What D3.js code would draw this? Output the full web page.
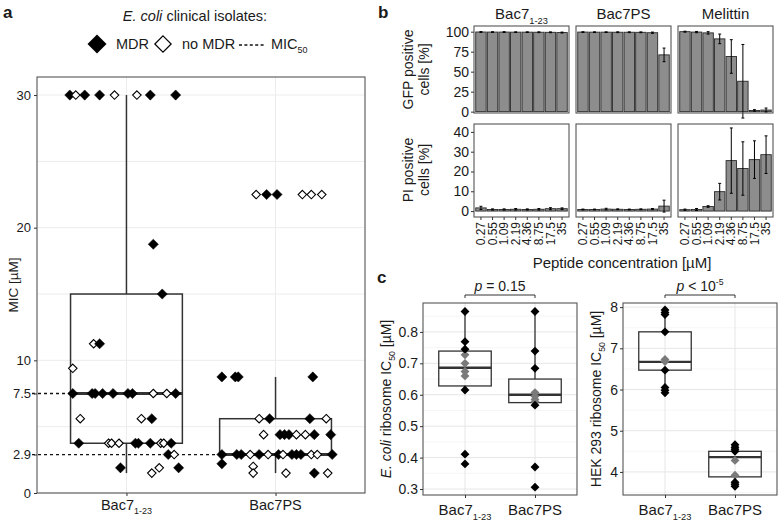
<!DOCTYPE html>
<html>
<head>
<meta charset="utf-8">
<script src="https://cdn.jsdelivr.net/npm/d3@7"></script>
<style>
  body { margin: 0; background: #fff; }
  text { font-family: 'Liberation Sans', Arial, sans-serif; fill: #1a1a1a; }
</style>
</head>
<body>
<svg id="fig" width="780" height="522"></svg>
<script>
// ---------- panel a: MIC against E. coli clinical isolates ----------
const micGroups = ['Bac7', 'Bac7PS']
const micTicks = [0, 2.9, 7.5, 10, 20, 30]
const mic50 = [7.5, 2.9]

const bac7Mic = [30, 30, 30, 30, 30, 30, 30, 30, 18.75, 15, 11.25, 11.25, 9.4,
  7.5, 7.5, 7.5, 7.5, 7.5, 7.5, 7.5, 7.5, 7.5, 7.5, 5.6, 5.6, 5.6,
  3.75, 3.75, 3.75, 3.75, 3.75, 3.75, 3.75, 3.75, 3.75, 3.75, 2.9, 2.9, 1.9, 1.9, 1.9, 1.5]
const bac7Jitter = [-0.38, -0.34, -0.28, -0.18, -0.08, 0.07, 0.16, 0.33, 0.18, 0.24, -0.22, -0.18, -0.36,
  -0.36, -0.23, -0.21, -0.16, -0.09, 0.01, 0.04, 0.18, 0.27, 0.33, -0.31, 0.10, 0.17,
  -0.32, -0.12, -0.10, -0.05, 0.06, 0.08, 0.16, 0.23, 0.25, 0.30, 0.28, 0.32, -0.04, 0.22, 0.35, 0.17]
const bac7Mdr = [1, 0, 1, 1, 0, 0, 1, 1, 1, 1, 0, 1, 0,
  1, 1, 1, 1, 1, 1, 1, 0, 0, 1, 0, 0, 1,
  1, 0, 0, 0, 1, 1, 1, 0, 0, 1, 1, 0, 1, 0, 1, 0]

const bac7psMic = [22.5, 22.5, 22.5, 22.5, 22.5, 22.5, 8.75, 8.75, 8.75, 8.75, 5.6, 5.6, 5.6, 5.6,
  4.4, 4.4, 4.4, 4.4, 4.4, 4.4, 4.4, 4.4,
  2.9, 2.9, 2.9, 2.9, 2.9, 2.9, 2.9, 2.9, 2.9, 2.9, 2.9, 2.9, 2.9, 2.9, 2.2, 2.0, 1.5, 1.5, 1.5, 1.5]
const bac7psJitter = [-0.13, -0.06, 0.01, 0.18, 0.24, 0.31, -0.36, -0.27, -0.25, 0.25, -0.11, -0.04, 0.23, 0.34,
  -0.08, 0.03, 0.06, 0.09, 0.14, 0.20, 0.26, 0.37,
  -0.36, -0.26, -0.23, -0.17, -0.11, -0.05, 0.02, 0.05, 0.11, 0.14, 0.17, 0.24, 0.28, 0.38, -0.36, -0.15, -0.15, 0.07, 0.26, 0.35]
const bac7psMdr = [0, 1, 1, 0, 0, 0, 1, 1, 1, 1, 0, 1, 1, 0,
  0, 1, 1, 1, 0, 0, 1, 1,
  1, 1, 1, 0, 1, 0, 1, 0, 1, 1, 1, 0, 0, 1, 1, 0, 0, 0, 1, 0]

// [lower whisker, Q1, median, Q3, upper whisker]
const bac7MicBox = [1.5, 3.75, 7.5, 15, 30]
const bac7psMicBox = [1.5, 2.9, 2.9, 5.6, 8.75]

// ---------- panel b: GFP / PI positive cells ----------
const peptides = ['Bac7', 'Bac7PS', 'Melittin']
const concLabels = ['0.27', '0.55', '1.09', '2.19', '4.36', '8.75', '17.5', '35']

const gfpBac7 = [99.6, 99.5, 99.5, 99.4, 99.4, 99.3, 99.2, 98.9]
const gfpBac7Sd = [0.5, 0.4, 0.5, 0.4, 0.4, 0.5, 0.5, 0.6]
const gfpBac7ps = [99.5, 99.4, 99.4, 99.3, 99.3, 99.2, 98.7, 71]
const gfpBac7psSd = [0.4, 0.4, 0.4, 0.5, 0.5, 0.5, 0.8, 8.5]
const gfpMelittin = [100, 99.5, 98.5, 91, 69, 38, 1.5, 2]
const gfpMelittinSd = [0.6, 0.8, 1.5, 6, 21, 46, 1, 2.5]

const piBac7 = [1.6, 0.8, 0.8, 0.9, 0.8, 0.9, 1.2, 1.2]
const piBac7Sd = [0.8, 0.3, 0.3, 0.4, 0.3, 0.4, 0.5, 0.4]
const piBac7ps = [0.8, 0.8, 1.0, 0.9, 0.8, 0.9, 1.0, 2.5]
const piBac7psSd = [0.2, 0.2, 0.4, 0.2, 0.2, 0.2, 0.3, 3]
const piMelittin = [0.7, 0.8, 2.3, 9.8, 25.5, 21.5, 26, 28.5]
const piMelittinSd = [0.3, 0.5, 0.4, 4.2, 16.5, 13.5, 9.5, 9.5]

// ---------- panel c: ribosome IC50 ----------
const icGroups = ['Bac7', 'Bac7PS']
const ecoliBac7Black = [0.865, 0.769, 0.745, 0.615, 0.411, 0.38]
const ecoliBac7Gray = [0.727, 0.70, 0.674, 0.66]
const ecoliBac7psBlack = [0.865, 0.739, 0.684, 0.567, 0.37, 0.306]
const ecoliBac7psGray = [0.607, 0.595, 0.585, 0.578]
const ecoliBac7Box = [0.615, 0.628, 0.686, 0.739, 0.865]
const ecoliBac7psBox = [0.567, 0.575, 0.6, 0.65, 0.865]

const hekBac7Black = [7.93, 7.87, 7.82, 7.4, 6.47, 6.05, 5.98, 5.92]
const hekBac7Gray = [6.73, 6.68]
const hekBac7psBlack = [4.66, 4.6, 4.55, 4.5, 3.75, 3.7, 3.65]
const hekBac7psGray = [4.28, 3.92]
const hekBac7Box = [5.92, 6.47, 6.67, 7.4, 7.93]
const hekBac7psBox = [3.65, 3.88, 4.36, 4.5, 4.66]

const svg = d3.select('#fig')
const diamond = d3.symbol().type(d3.symbolDiamond2)

// text with an optional subscript / superscript part
function label (g, x, y, parts, size, anchor) {
  let t = g.append('text').attr('x', x).attr('y', y)
    .attr('font-size', size).attr('text-anchor', anchor || 'middle')
  parts.forEach(function (p) {
    let s = t.append('tspan').text(p.t)
    if (p.i) s.attr('font-style', 'italic')
    if (p.sub) s.attr('font-size', size * 0.62).attr('dy', size * 0.3)
    if (p.sup) s.attr('font-size', size * 0.62).attr('dy', -size * 0.4)
    if (p.back) s.attr('dy', p.back)
  })
  return t
}

function frame (g, x0, x1, y0, y1) {
  g.append('rect').attr('x', x0).attr('y', y0)
    .attr('width', x1 - x0).attr('height', y1 - y0)
    .attr('fill', 'none').attr('stroke', '#555').attr('stroke-width', 1.1)
}

function styleAxis (ax, size) {
  ax.select('.domain').remove()
  ax.selectAll('line').attr('stroke', '#333')
  ax.selectAll('text').attr('font-size', size).attr('fill', '#333')
    .attr('font-family', "'Liberation Sans', Arial, sans-serif")
}

function drawBox (g, cx, w, y, s, lw, medLw) {
  let col = '#333'
  g.append('line').attr('x1', cx).attr('x2', cx).attr('y1', y(s[4])).attr('y2', y(s[3]))
    .attr('stroke', col).attr('stroke-width', lw)
  g.append('line').attr('x1', cx).attr('x2', cx).attr('y1', y(s[1])).attr('y2', y(s[0]))
    .attr('stroke', col).attr('stroke-width', lw)
  g.append('rect').attr('x', cx - w / 2).attr('y', y(s[3]))
    .attr('width', w).attr('height', y(s[1]) - y(s[3]))
    .attr('fill', 'none').attr('stroke', col).attr('stroke-width', lw)
  g.append('line').attr('x1', cx - w / 2).attr('x2', cx + w / 2)
    .attr('y1', y(s[2])).attr('y2', y(s[2]))
    .attr('stroke', col).attr('stroke-width', medLw)
}

// ================= panel a =================
let ga = svg.append('g')
let xA = d3.scalePoint().domain(micGroups).range([37, 365]).padding(0.6)
let yA = d3.scaleLinear().domain([0, 31.36]).range([493, 77])

d3.range(0, 31, 5).forEach(function (v) {
  ga.append('line').attr('x1', 37).attr('x2', 365).attr('y1', yA(v)).attr('y2', yA(v))
    .attr('stroke', '#ececec').attr('stroke-width', 1)
})
micGroups.forEach(function (g) {
  ga.append('line').attr('x1', xA(g)).attr('x2', xA(g)).attr('y1', 77).attr('y2', 493)
    .attr('stroke', '#ececec').attr('stroke-width', 1)
})

let boxW = xA.step() * 0.75
drawBox(ga, xA('Bac7'), boxW, yA, bac7MicBox, 1.5, 3)
drawBox(ga, xA('Bac7PS'), boxW, yA, bac7psMicBox, 1.5, 3)

// MIC50 dashed lines from the axis to each box
mic50.forEach(function (v, i) {
  ga.append('line').attr('x1', 32).attr('x2', xA(micGroups[i]) - boxW / 2)
    .attr('y1', yA(v)).attr('y2', yA(v))
    .attr('stroke', '#111').attr('stroke-width', 1.3).attr('stroke-dasharray', '3,3')
})

function isolates (group, vals, jit, mdr) {
  return vals.map((v, i) => ({ g: group, v: v, j: jit[i], mdr: mdr[i] }))
}
let micPoints = isolates('Bac7', bac7Mic, bac7Jitter, bac7Mdr)
  .concat(isolates('Bac7PS', bac7psMic, bac7psJitter, bac7psMdr))

ga.selectAll('path.iso').data(micPoints).join('path')
  .attr('class', 'iso')
  .attr('transform', d => `translate(${xA(d.g) + d.j * xA.step()},${yA(d.v)})`)
  .attr('d', d => diamond.size(d.mdr ? 66 : 46)())
  .attr('fill', d => d.mdr ? '#000' : '#fff')
  .attr('stroke', '#000').attr('stroke-width', d => d.mdr ? 0.5 : 1.1)

frame(ga, 37, 365, 77, 493)
let axA = ga.append('g').attr('transform', 'translate(37,0)')
  .call(d3.axisLeft(yA).tickValues(micTicks).tickSize(3).tickPadding(3).tickFormat(d => d))
styleAxis(axA, 13)
let axAx = ga.append('g').attr('transform', 'translate(0,493)')
  .call(d3.axisBottom(xA).tickSize(3).tickFormat(''))
styleAxis(axAx, 12)

label(ga, xA('Bac7'), 510, [{ t: 'Bac7' }, { t: '1-23', sub: true }], 14.5)
label(ga, xA('Bac7PS'), 510, [{ t: 'Bac7PS' }], 14.5)
label(ga, 0, 0, [{ t: 'MIC [µM]' }], 13.5).attr('transform', 'translate(18,285) rotate(-90)')

// legend
label(svg, 195, 21, [{ t: 'E. coli', i: true }, { t: ' clinical isolates:' }], 14.5)
svg.append('path').attr('transform', 'translate(97,44)').attr('d', diamond.size(230)())
  .attr('fill', '#000')
label(svg, 116, 49, [{ t: 'MDR' }], 14.5, 'start')
svg.append('path').attr('transform', 'translate(163,44)').attr('d', diamond.size(170)())
  .attr('fill', '#fff').attr('stroke', '#000').attr('stroke-width', 1.2)
label(svg, 182, 49, [{ t: 'no MDR' }], 14.5, 'start')
svg.append('line').attr('x1', 239).attr('x2', 264).attr('y1', 45).attr('y2', 45)
  .attr('stroke', '#111').attr('stroke-width', 1.3).attr('stroke-dasharray', '3,2.4')
label(svg, 271, 49, [{ t: 'MIC' }, { t: '50', sub: true }], 14.5, 'start')

// ================= panel b =================
let gb = svg.append('g')
let facetX = [[474, 569], [576, 671], [678, 773]]
let yGfp = d3.scaleLinear().domain([-1.7, 107.1]).range([113, 26])
let yPi = d3.scaleLinear().domain([-3, 44]).range([217, 124])
let gfpMeans = [gfpBac7, gfpBac7ps, gfpMelittin]
let gfpSds = [gfpBac7Sd, gfpBac7psSd, gfpMelittinSd]
let piMeans = [piBac7, piBac7ps, piMelittin]
let piSds = [piBac7Sd, piBac7psSd, piMelittinSd]

function bars (parent, x, y, means, sds) {
  let g = parent.append('g')
  let rows = concLabels.map((c, i) => ({ c: c, m: means[i], sd: sds[i] }))
  g.selectAll('rect').data(rows).join('rect')
    .attr('x', d => x(d.c)).attr('width', x.bandwidth())
    .attr('y', d => y(d.m)).attr('height', d => y(0) - y(d.m))
    .attr('fill', '#8d8d8d').attr('stroke', '#2a2a2a').attr('stroke-width', 0.9)
  let cap = x.bandwidth() * 0.14
  rows.forEach(function (d) {
    let cx = x(d.c) + x.bandwidth() / 2
    g.append('line').attr('x1', cx).attr('x2', cx).attr('y1', y(d.m - d.sd)).attr('y2', y(d.m + d.sd))
      .attr('stroke', '#000').attr('stroke-width', 1)
    ;[d.m - d.sd, d.m + d.sd].forEach(function (v) {
      g.append('line').attr('x1', cx - cap).attr('x2', cx + cap).attr('y1', y(v)).attr('y2', y(v))
        .attr('stroke', '#000').attr('stroke-width', 1)
    })
  })
}

peptides.forEach(function (p, k) {
  let [x0, x1] = facetX[k]
  let xB = d3.scaleBand().domain(concLabels).range([x0, x1]).paddingInner(0.1).paddingOuter(0.15)
  bars(gb, xB, yGfp, gfpMeans[k], gfpSds[k])
  bars(gb, xB, yPi, piMeans[k], piSds[k])
  frame(gb, x0, x1, 26, 113)
  frame(gb, x0, x1, 124, 217)
  let ax = gb.append('g').attr('transform', 'translate(0,217)')
    .call(d3.axisBottom(xB).tickSize(3))
  styleAxis(ax, 12)
  ax.selectAll('text').attr('transform', 'rotate(-90)').attr('x', -5).attr('y', 0)
    .attr('dy', '0.35em').attr('text-anchor', 'end')
  let cx = (x0 + x1) / 2
  if (p === 'Bac7') label(gb, cx, 19, [{ t: 'Bac7' }, { t: '1-23', sub: true }], 15)
  else label(gb, cx, 19, [{ t: p }], 15)
})

let axG = gb.append('g').attr('transform', 'translate(474,0)')
  .call(d3.axisLeft(yGfp).tickValues([0, 25, 50, 75, 100]).tickSize(3).tickPadding(2))
styleAxis(axG, 14)
let axP = gb.append('g').attr('transform', 'translate(474,0)')
  .call(d3.axisLeft(yPi).tickValues([0, 10, 20, 30, 40]).tickSize(3).tickPadding(2))
styleAxis(axP, 14)

label(gb, 0, 0, [{ t: 'GFP positive' }], 14).attr('transform', 'translate(413,69.5) rotate(-90)')
label(gb, 0, 0, [{ t: 'cells [%]' }], 14).attr('transform', 'translate(429,69.5) rotate(-90)')
label(gb, 0, 0, [{ t: 'PI positive' }], 14).attr('transform', 'translate(413,170) rotate(-90)')
label(gb, 0, 0, [{ t: 'cells [%]' }], 14).attr('transform', 'translate(429,170) rotate(-90)')
label(gb, 622, 268, [{ t: 'Peptide concentration [µM]' }], 15)

// ================= panel c =================
function icPanel (x0, x1, y, ticks, minor, boxes, blacks, grays, yTitle, titleX, pText) {
  let g = svg.append('g')
  let x = d3.scalePoint().domain(icGroups).range([x0, x1]).padding(0.6)
  let [yb, yt] = y.range()
  minor.forEach(v => g.append('line').attr('x1', x0).attr('x2', x1).attr('y1', y(v)).attr('y2', y(v))
    .attr('stroke', '#f2f2f2').attr('stroke-width', 0.7))
  ticks.forEach(v => g.append('line').attr('x1', x0).attr('x2', x1).attr('y1', y(v)).attr('y2', y(v))
    .attr('stroke', '#e6e6e6').attr('stroke-width', 1))
  icGroups.forEach(c => g.append('line').attr('x1', x(c)).attr('x2', x(c)).attr('y1', yt).attr('y2', yb)
    .attr('stroke', '#e6e6e6').attr('stroke-width', 1))
  let w = x.step() * 0.75
  icGroups.forEach(function (c, i) {
    drawBox(g, x(c), w, y, boxes[i], 1.3, 2.4)
    let pts = grays[i].map(v => ({ v: v, col: '#7a7a7a' })).concat(blacks[i].map(v => ({ v: v, col: '#000' })))
    g.selectAll('path.p' + i).data(pts).join('path').attr('class', 'p' + i)
      .attr('transform', d => `translate(${x(c)},${y(d.v)})`)
      .attr('d', diamond.size(50)())
      .attr('fill', d => d.col)
  })
  frame(g, x0, x1, yt, yb)
  let ay = g.append('g').attr('transform', `translate(${x0},0)`)
    .call(d3.axisLeft(y).tickValues(ticks).tickSize(3).tickPadding(2).tickFormat(d => d))
  styleAxis(ay, 14)
  let axb = g.append('g').attr('transform', `translate(0,${yb})`)
    .call(d3.axisBottom(x).tickSize(3).tickFormat(''))
  styleAxis(axb, 14)
  label(g, x('Bac7'), 515, [{ t: 'Bac7' }, { t: '1-23', sub: true }], 15)
  label(g, x('Bac7PS'), 515, [{ t: 'Bac7PS' }], 15)
  // significance bracket
  g.append('path')
    .attr('d', `M${x('Bac7')},${yt - 5}V${yt - 8}H${x('Bac7PS')}V${yt - 5}`)
    .attr('fill', 'none').attr('stroke', '#333').attr('stroke-width', 1)
  label(g, (x('Bac7') + x('Bac7PS')) / 2, yt - 12, pText, 14)
  label(g, 0, 0, yTitle, 14).attr('transform', `translate(${titleX},${(yt + yb) / 2}) rotate(-90)`)
}

let yEc = d3.scaleLinear().domain([0.281, 0.892]).range([495, 303])
icPanel(423, 577, yEc, [0.3, 0.4, 0.5, 0.6, 0.7, 0.8], [0.35, 0.45, 0.55, 0.65, 0.75, 0.85],
  [ecoliBac7Box, ecoliBac7psBox], [ecoliBac7Black, ecoliBac7psBlack], [ecoliBac7Gray, ecoliBac7psGray],
  [{ t: 'E. coli', i: true }, { t: ' ribosome IC' }, { t: '50', sub: true }, { t: ' [µM]', back: -4.3 }], 391,
  [{ t: 'p', i: true }, { t: ' = 0.15' }])

let yHek = d3.scaleLinear().domain([3.44, 8.1]).range([495, 303])
icPanel(623, 777, yHek, [4, 5, 6, 7, 8], [3.5, 4.5, 5.5, 6.5, 7.5],
  [hekBac7Box, hekBac7psBox], [hekBac7Black, hekBac7psBlack], [hekBac7Gray, hekBac7psGray],
  [{ t: 'HEK 293 ribosome IC' }, { t: '50', sub: true }, { t: ' [µM]', back: -4.3 }], 601,
  [{ t: 'p', i: true }, { t: ' < 10' }, { t: '-5', sup: true }])

// panel letters
label(svg, 3, 18, [{ t: 'a' }], 17, 'start').attr('font-weight', 'bold')
label(svg, 378, 18, [{ t: 'b' }], 17, 'start').attr('font-weight', 'bold')
label(svg, 377, 283, [{ t: 'c' }], 17, 'start').attr('font-weight', 'bold')
</script>
</body>
</html>
